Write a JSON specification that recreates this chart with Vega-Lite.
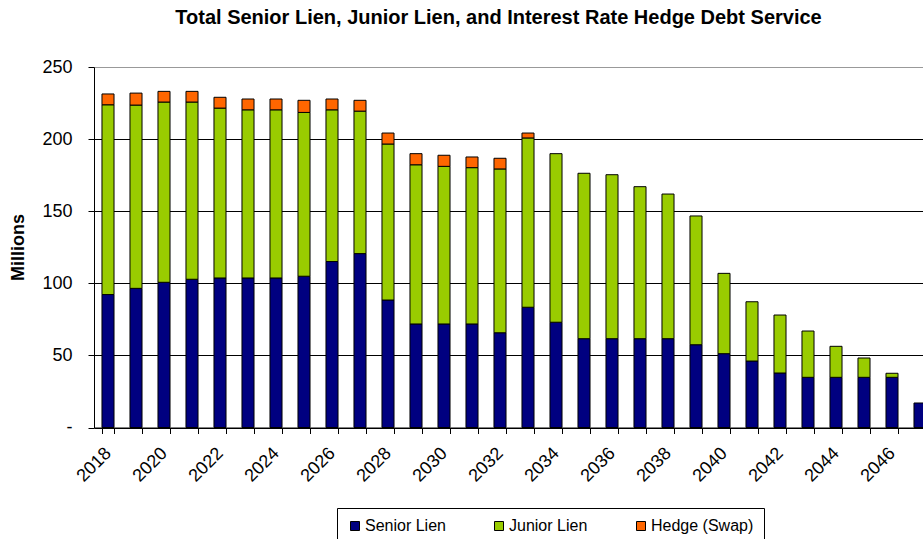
{
  "$schema": "https://vega.github.io/schema/vega-lite/v6.json",
  "autosize": {"type": "none"},
  "width": 829,
  "height": 360.5,
  "padding": {"left": 94, "top": 67, "right": 0, "bottom": 111.5},
  "background": "white",
  "title": {
    "text": "Total Senior Lien, Junior Lien, and Interest Rate Hedge Debt Service",
    "font": "Liberation Sans",
    "fontSize": 20,
    "fontWeight": "bold",
    "color": "black",
    "anchor": "middle",
    "frame": "group",
    "dx": -10,
    "baseline": "alphabetic",
    "offset": 14
  },
  "data": {
    "values": [
      {"year": "2018", "series": "Senior Lien", "value": 92.2},
      {"year": "2018", "series": "Junior Lien", "value": 131.6},
      {"year": "2018", "series": "Hedge (Swap)", "value": 7.5},
      {"year": "2019", "series": "Senior Lien", "value": 96.5},
      {"year": "2019", "series": "Junior Lien", "value": 127.1},
      {"year": "2019", "series": "Hedge (Swap)", "value": 8.3},
      {"year": "2020", "series": "Senior Lien", "value": 100.7},
      {"year": "2020", "series": "Junior Lien", "value": 125.0},
      {"year": "2020", "series": "Hedge (Swap)", "value": 7.4},
      {"year": "2021", "series": "Senior Lien", "value": 102.8},
      {"year": "2021", "series": "Junior Lien", "value": 122.9},
      {"year": "2021", "series": "Hedge (Swap)", "value": 7.4},
      {"year": "2022", "series": "Senior Lien", "value": 103.7},
      {"year": "2022", "series": "Junior Lien", "value": 117.8},
      {"year": "2022", "series": "Hedge (Swap)", "value": 7.5},
      {"year": "2023", "series": "Senior Lien", "value": 103.7},
      {"year": "2023", "series": "Junior Lien", "value": 116.6},
      {"year": "2023", "series": "Hedge (Swap)", "value": 7.5},
      {"year": "2024", "series": "Senior Lien", "value": 103.7},
      {"year": "2024", "series": "Junior Lien", "value": 116.6},
      {"year": "2024", "series": "Hedge (Swap)", "value": 7.5},
      {"year": "2025", "series": "Senior Lien", "value": 104.9},
      {"year": "2025", "series": "Junior Lien", "value": 113.6},
      {"year": "2025", "series": "Hedge (Swap)", "value": 8.4},
      {"year": "2026", "series": "Senior Lien", "value": 115.1},
      {"year": "2026", "series": "Junior Lien", "value": 105.2},
      {"year": "2026", "series": "Hedge (Swap)", "value": 7.5},
      {"year": "2027", "series": "Senior Lien", "value": 120.6},
      {"year": "2027", "series": "Junior Lien", "value": 98.8},
      {"year": "2027", "series": "Hedge (Swap)", "value": 7.5},
      {"year": "2028", "series": "Senior Lien", "value": 88.4},
      {"year": "2028", "series": "Junior Lien", "value": 108.2},
      {"year": "2028", "series": "Hedge (Swap)", "value": 7.6},
      {"year": "2029", "series": "Senior Lien", "value": 71.8},
      {"year": "2029", "series": "Junior Lien", "value": 110.4},
      {"year": "2029", "series": "Hedge (Swap)", "value": 7.7},
      {"year": "2030", "series": "Senior Lien", "value": 71.8},
      {"year": "2030", "series": "Junior Lien", "value": 109.3},
      {"year": "2030", "series": "Hedge (Swap)", "value": 7.7},
      {"year": "2031", "series": "Senior Lien", "value": 71.8},
      {"year": "2031", "series": "Junior Lien", "value": 108.4},
      {"year": "2031", "series": "Hedge (Swap)", "value": 7.4},
      {"year": "2032", "series": "Senior Lien", "value": 65.7},
      {"year": "2032", "series": "Junior Lien", "value": 113.6},
      {"year": "2032", "series": "Hedge (Swap)", "value": 7.4},
      {"year": "2033", "series": "Senior Lien", "value": 83.4},
      {"year": "2033", "series": "Junior Lien", "value": 117.4},
      {"year": "2033", "series": "Hedge (Swap)", "value": 3.4},
      {"year": "2034", "series": "Senior Lien", "value": 73.0},
      {"year": "2034", "series": "Junior Lien", "value": 116.9},
      {"year": "2035", "series": "Senior Lien", "value": 61.6},
      {"year": "2035", "series": "Junior Lien", "value": 114.7},
      {"year": "2036", "series": "Senior Lien", "value": 61.6},
      {"year": "2036", "series": "Junior Lien", "value": 113.7},
      {"year": "2037", "series": "Senior Lien", "value": 61.6},
      {"year": "2037", "series": "Junior Lien", "value": 105.4},
      {"year": "2038", "series": "Senior Lien", "value": 61.6},
      {"year": "2038", "series": "Junior Lien", "value": 100.3},
      {"year": "2039", "series": "Senior Lien", "value": 57.4},
      {"year": "2039", "series": "Junior Lien", "value": 89.3},
      {"year": "2040", "series": "Senior Lien", "value": 51.2},
      {"year": "2040", "series": "Junior Lien", "value": 55.7},
      {"year": "2041", "series": "Senior Lien", "value": 46.1},
      {"year": "2041", "series": "Junior Lien", "value": 41.1},
      {"year": "2042", "series": "Senior Lien", "value": 37.8},
      {"year": "2042", "series": "Junior Lien", "value": 40.2},
      {"year": "2043", "series": "Senior Lien", "value": 34.8},
      {"year": "2043", "series": "Junior Lien", "value": 32.1},
      {"year": "2044", "series": "Senior Lien", "value": 34.8},
      {"year": "2044", "series": "Junior Lien", "value": 21.5},
      {"year": "2045", "series": "Senior Lien", "value": 34.8},
      {"year": "2045", "series": "Junior Lien", "value": 13.4},
      {"year": "2046", "series": "Senior Lien", "value": 34.8},
      {"year": "2046", "series": "Junior Lien", "value": 2.8},
      {"year": "2047", "series": "Senior Lien", "value": 17.0}
    ]
  },
  "mark": {"type": "bar", "stroke": "black", "strokeWidth": 1},
  "encoding": {
    "x": {
      "field": "year",
      "type": "ordinal",
      "scale": {"range": [0, 840], "paddingInner": 0.57, "paddingOuter": 0.285},
      "axis": {
        "title": null,
        "labelAngle": -45,
        "labelAlign": "right",
        "labelBaseline": "middle",
        "labelPadding": 17,
        "labelFont": "Liberation Sans",
        "labelFontSize": 18,
        "labelColor": "black",
        "labelOverlap": false,
        "labelExpr": "toNumber(datum.value) % 2 == 0 ? datum.label : ''",
        "tickBand": "extent",
        "tickSize": 6,
        "tickColor": "black",
        "domainColor": "black",
        "grid": false
      }
    },
    "y": {
      "field": "value",
      "type": "quantitative",
      "stack": "zero",
      "scale": {"domain": [0, 250], "nice": false},
      "axis": {
        "title": "Millions",
        "titleFont": "Liberation Sans",
        "titleFontSize": 18,
        "titleFontWeight": "bold",
        "titleColor": "black",
        "titleX": -75.5,
        "titleY": 180,
        "titleAngle": -90,
        "titleAlign": "center",
        "titleBaseline": "middle",
        "values": [0, 50, 100, 150, 200, 250],
        "labelExpr": "datum.value == 0 ? '-' : datum.label",
        "labelFont": "Liberation Sans",
        "labelFontSize": 18,
        "labelColor": "black",
        "labelPadding": 16,
        "tickSize": 6,
        "tickColor": "black",
        "domainColor": "black",
        "grid": true,
        "gridColor": {"condition": {"test": "datum.value == 250", "value": "#999999"}, "value": "black"},
        "gridWidth": 1
      }
    },
    "color": {
      "field": "series",
      "type": "nominal",
      "scale": {
        "domain": ["Senior Lien", "Junior Lien", "Hedge (Swap)"],
        "range": ["#000080", "#99CC00", "#FF6600"]
      },
      "legend": {
        "orient": "none",
        "legendX": 243,
        "legendY": 441,
        "direction": "horizontal",
        "title": null,
        "strokeColor": "black",
        "fillColor": "white",
        "padding": 10,
        "symbolType": "square",
        "symbolSize": 81,
        "symbolStrokeColor": "black",
        "symbolStrokeWidth": 1,
        "symbolOpacity": 1,
        "labelFont": "Liberation Sans",
        "labelFontSize": 16,
        "labelColor": "black",
        "labelOffset": 2,
        "columnPadding": 45
      }
    },
    "order": {"field": "series", "sort": "descending"}
  },
  "config": {"view": {"stroke": null}}
}
